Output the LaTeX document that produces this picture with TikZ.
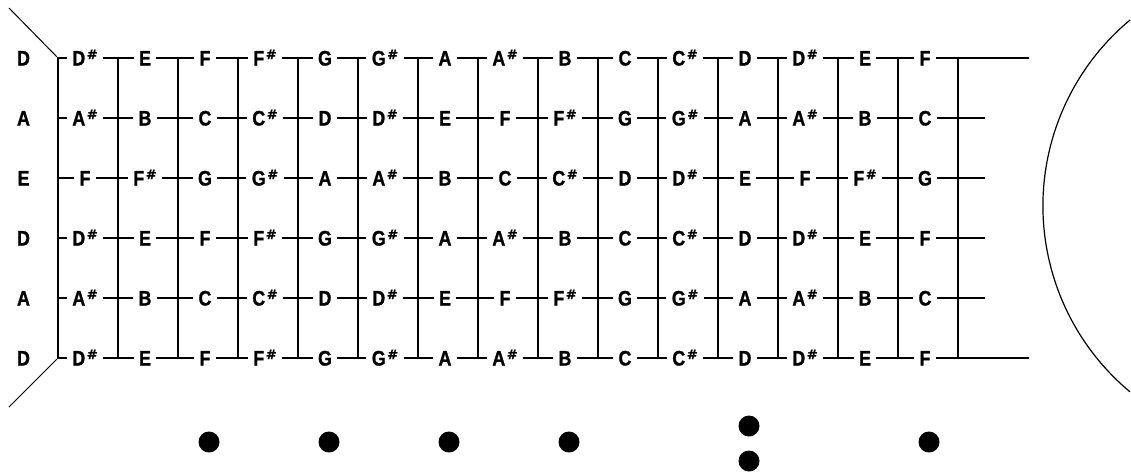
\documentclass[tikz,border=0pt]{standalone}
\usepackage{fontspec}
\newfontfamily\bitfont{Liberation Sans Bold}[FakeStretch=0.85,FakeBold=1.2]
\newfontfamily\sharpfont{DejaVu Sans Bold}[FakeBold=1]
\newcommand{\shp}{\hspace{1.5pt}\raisebox{6.5pt}{\sharpfont\fontsize{13}{13}\selectfont\#}}
\newcommand{\lbl}[1]{\bitfont\fontsize{21}{21}\selectfont #1}
\begin{document}
\begin{tikzpicture}[x=1pt,y=-1pt,
  fret/.style={line width=2pt,line cap=rect},
  stringline/.style={line width=2pt,line cap=rect},
  notelabel/.style={fill=white,inner xsep=5.5pt,inner ysep=1pt,anchor=base},
  openlabel/.style={notelabel},
  headline/.style={line width=1pt},
  dot/.style={circle,fill=black,inner sep=0pt,minimum size=21pt}]
\useasboundingbox (0,0) rectangle (1131,472);
% frets
\foreach \k in {0,...,15}{
  \coordinate (ft\k) at ({58+60*\k},58);
  \coordinate (fb\k) at ({58+60*\k},358);
  \draw[fret] (ft\k) -- (fb\k);
}
% strings with notes
\foreach \r/\y/\open/\endx/\notes in {
  1/58/D/1028/{D\shp,E,F,F\shp,G,G\shp,A,A\shp,B,C,C\shp,D,D\shp,E,F},
  2/118/A/984/{A\shp,B,C,C\shp,D,D\shp,E,F,F\shp,G,G\shp,A,A\shp,B,C},
  3/178/E/984/{F,F\shp,G,G\shp,A,A\shp,B,C,C\shp,D,D\shp,E,F,F\shp,G},
  4/238/D/984/{D\shp,E,F,F\shp,G,G\shp,A,A\shp,B,C,C\shp,D,D\shp,E,F},
  5/298/A/984/{A\shp,B,C,C\shp,D,D\shp,E,F,F\shp,G,G\shp,A,A\shp,B,C},
  6/358/D/1028/{D\shp,E,F,F\shp,G,G\shp,A,A\shp,B,C,C\shp,D,D\shp,E,F}}{
  \coordinate (s\r a) at (58,\y);
  \coordinate (s\r b) at (\endx,\y);
  \draw[stringline] (s\r a) -- (s\r b);
  \node[openlabel] (o\r) at (23.5,\y+7.5) {\lbl{\open}};
  \foreach \n [count=\k] in \notes {
    \node[notelabel] (n\r-\k) at ({25+60*\k},\y+7.5) {\lbl{\n}};
  }
}
% head diagonals
\coordinate (h1) at (9,8);
\coordinate (h2) at (9,407);
\draw[headline] (h1) -- (ft0);
\draw[headline] (h2) -- (fb0);
% body arc
\coordinate (arcstart) at (1130,20);
\draw[line width=1.2pt] (arcstart) arc[start angle=-129.8,end angle=-230.2,radius=242];
% position markers
\node[dot] (m3) at (209,442) {};
\node[dot] (m5) at (329,442) {};
\node[dot] (m7) at (449,442) {};
\node[dot] (m9) at (569,442) {};
\node[dot] (m12a) at (749,426) {};
\node[dot] (m12b) at (749,461) {};
\node[dot] (m15) at (929,442) {};
\end{tikzpicture}
\end{document}
